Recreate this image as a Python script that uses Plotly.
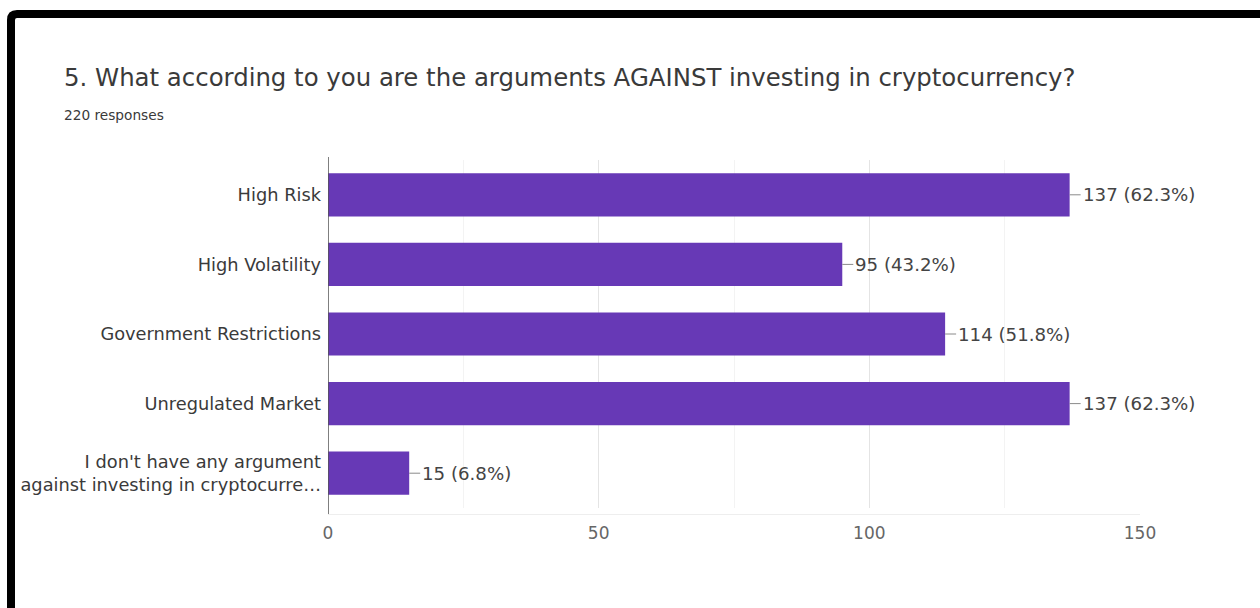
import plotly.graph_objects as go

# Survey results
categories = [
    "High Risk",
    "High Volatility",
    "Government Restrictions",
    "Unregulated Market",
    "I don't have any argument<br>against investing in cryptocurre…",
]
counts = [137, 95, 114, 137, 15]
percents = ["62.3%", "43.2%", "51.8%", "62.3%", "6.8%"]
total_responses = 220
x_ticks = [0, 50, 100, 150]

W, H = 1260, 608
ML, MR, MT, MB = 328, 120, 160, 100
PW, PH = W - ML - MR, H - MT - MB
FONT = "DejaVu Sans, Arial, Liberation Sans"


def px_x(p):
    return (p - ML) / PW


def px_y(p):
    return (H - MB - p) / PH


fig = go.Figure()
fig.add_trace(go.Bar(
    x=counts,
    y=categories,
    orientation="h",
    marker=dict(color="#6739b6", line=dict(width=0)),
    hoverinfo="skip",
))

# value labels with short leader lines
for c, v, p in zip(categories, counts, percents):
    fig.add_annotation(
        x=v, y=c, xref="x", yref="y",
        text=f"{v} ({p})",
        showarrow=True, arrowhead=0, arrowwidth=1, arrowcolor="#8a8a8a",
        ax=11, ay=0, xanchor="left", standoff=0, startstandoff=0,
        font=dict(family=FONT, size=18.2, color="#444444"),
    )

# title and subtitle
fig.add_annotation(
    x=px_x(62), y=px_y(77), xref="paper", yref="paper",
    xanchor="left", yanchor="middle", showarrow=False,
    text="5. What according to you are the arguments AGAINST investing in cryptocurrency?",
    font=dict(family=FONT, size=24.4, color="#3a3a3a"),
)
fig.add_annotation(
    x=px_x(62), y=px_y(115), xref="paper", yref="paper",
    xanchor="left", yanchor="middle", showarrow=False,
    text=f"{total_responses} responses",
    font=dict(family=FONT, size=13.7, color="#3a3a3a"),
)

# baseline axis at zero
fig.add_shape(type="line", xref="x", yref="paper", x0=0, x1=0,
              y0=px_y(514), y1=px_y(157), line=dict(color="#555555", width=1.5))

# frame: top and left edges with rounded corner
fig.add_shape(
    type="path", xref="paper", yref="paper",
    path=(f"M {px_x(11)},{px_y(640)} L {px_x(11)},{px_y(20)} "
          f"Q {px_x(11)},{px_y(14)} {px_x(17)},{px_y(14)} L {px_x(1280)},{px_y(14)}"),
    line=dict(color="#000000", width=8),
)

fig.update_layout(
    width=W, height=H,
    margin=dict(l=ML, r=MR, t=MT, b=MB, pad=6),
    paper_bgcolor="white", plot_bgcolor="white",
    showlegend=False,
    bargap=0.38,
    font=dict(family=FONT, color="#3a3a3a"),
    xaxis=dict(
        range=[0, 150], tickvals=x_ticks, ticks="",
        showgrid=True, gridcolor="#e4e4e4", gridwidth=1,
        minor=dict(dtick=25, showgrid=True, gridcolor="#f3f3f3"),
        zeroline=False, showline=True, linecolor="#eeeeee",
        tickfont=dict(family=FONT, size=17, color="#666666"),
        ticklabelstandoff=4,
        fixedrange=True,
    ),
    yaxis=dict(
        autorange="reversed", ticks="", showgrid=False, zeroline=False,
        tickfont=dict(family=FONT, size=17.8, color="#3a3a3a"),
        fixedrange=True,
    ),
)

fig.write_html("out.html")
